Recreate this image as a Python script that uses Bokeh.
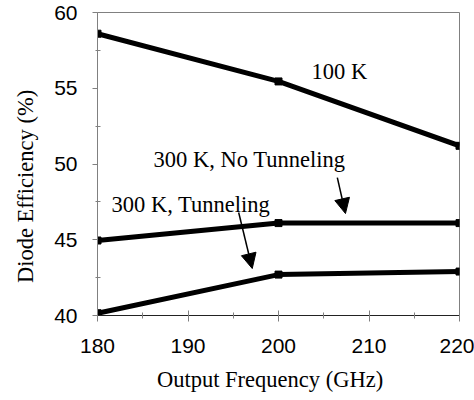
from bokeh.plotting import figure
from bokeh.models import Label, Arrow, NormalHead, Range1d, FixedTicker
from bokeh.embed import file_html
from bokeh.resources import INLINE

freq = [180, 200, 220]
eff_100k = [58.6, 55.45, 51.2]
eff_300k_no_tunnel = [44.95, 46.1, 46.1]
eff_300k_tunnel = [40.15, 42.7, 42.9]

x_ticks = [180, 190, 200, 210, 220]
y_ticks = [40, 45, 50, 55, 60]

p = figure(width=474, height=400, output_backend="svg", toolbar_location=None,
           x_range=Range1d(180, 220), y_range=Range1d(40, 60),
           min_border_left=97, min_border_right=15, min_border_top=12, min_border_bottom=85)
p.grid.visible = False
p.background_fill_color = "white"
p.border_fill_color = "white"
p.outline_line_color = "#808080"
p.outline_line_width = 1

serif = "Liberation Serif"
sans = "Liberation Sans"
fs = "22.5px"

# x axis
xa = p.xaxis[0]
xa.ticker = FixedTicker(ticks=x_ticks, minor_ticks=[185, 195, 205, 215])
xa.axis_line_color = "#222222"
xa.major_tick_line_color = "#808080"
xa.minor_tick_line_color = "#808080"
xa.major_tick_in = 5
xa.major_tick_out = 6
xa.minor_tick_in = 3
xa.minor_tick_out = 3
xa.major_label_text_font = sans
xa.major_label_text_font_size = "21px"
xa.major_label_text_color = "black"
xa.major_label_standoff = 17
xa.axis_label = "Output Frequency (GHz)" + "\u00a0" * 3
xa.axis_label_text_font = serif
xa.axis_label_text_font_style = "normal"
xa.axis_label_text_font_size = fs
xa.axis_label_text_color = "black"
xa.axis_label_standoff = 11

# y axis
ya = p.yaxis[0]
ya.ticker = FixedTicker(ticks=y_ticks, minor_ticks=[42.5, 47.5, 52.5, 57.5])
ya.axis_line_color = "#808080"
ya.major_tick_line_color = "#808080"
ya.minor_tick_line_color = "#808080"
ya.major_tick_in = 0
ya.major_tick_out = 5
ya.minor_tick_in = 3
ya.minor_tick_out = 2
ya.major_label_text_font = sans
ya.major_label_text_font_size = "21px"
ya.major_label_text_color = "black"
ya.major_label_standoff = 15
ya.axis_label = "Diode Efficiency (%)" + "\u00a0" * 8
ya.axis_label_text_font = serif
ya.axis_label_text_font_style = "normal"
ya.axis_label_text_font_size = fs
ya.axis_label_text_color = "black"
ya.axis_label_standoff = 13

for ys in (eff_100k, eff_300k_no_tunnel, eff_300k_tunnel):
    p.line(freq, ys, line_color="black", line_width=5)
    p.scatter(freq, ys, marker="square", size=7, color="black")

def lab(x, y, t):
    p.add_layout(Label(x=x, y=y, text=t, text_font=serif, text_font_size=fs,
                       text_color="black", text_baseline="alphabetic", text_align="left"))

lab(203.65, 56.1, "100 K")
lab(186.2, 50.3, "300 K, No Tunneling")
lab(181.55, 47.33, "300 K, Tunneling")

for (x0, y0, x1, y1) in [(206.5, 49.1, 207.4, 46.73), (195.6, 46.8, 197.1, 43.1)]:
    p.add_layout(Arrow(x_start=x0, y_start=y0, x_end=x1, y_end=y1,
                       line_color="black", line_width=1.5,
                       end=NormalHead(size=15, fill_color="black", line_color="black")))

open("out.html", "w").write(file_html(p, INLINE))
